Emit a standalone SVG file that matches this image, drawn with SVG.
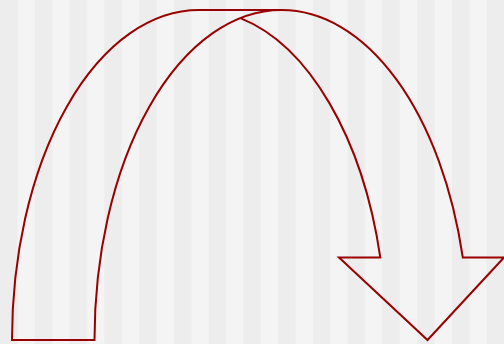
<svg xmlns="http://www.w3.org/2000/svg" width="504" height="344" viewBox="0 0 504 344">
  <defs>
    <pattern id="stripes" patternUnits="userSpaceOnUse" x="0" y="0" width="34.7586" height="344">
      <rect x="0" y="0" width="34.7586" height="344" fill="#f4f4f4"/>
      <rect x="0" y="0" width="17.3793" height="344" fill="#ededed"/>
    </pattern>
    <style>
      .outline { fill: none; stroke: #990000; stroke-width: 2; stroke-linejoin: miter; }
    </style>
  </defs>
  <rect id="background" x="0" y="0" width="504" height="344" fill="url(#stripes)"/>
  <g id="curved-arrow">
    <path class="outline" d="M281.6,10 A187.1,330 0 0 0 94.5,340 L12,340 A187.1,330 0 0 1 199.1,10 L281.6,10 A187.1,330 0 0 1 462.8,257.5 L504,257.5 L427.5,340 L339,257.5 L380.3,257.5 A187.1,330 0 0 0 240.35,18.12"/>
  </g>
</svg>
